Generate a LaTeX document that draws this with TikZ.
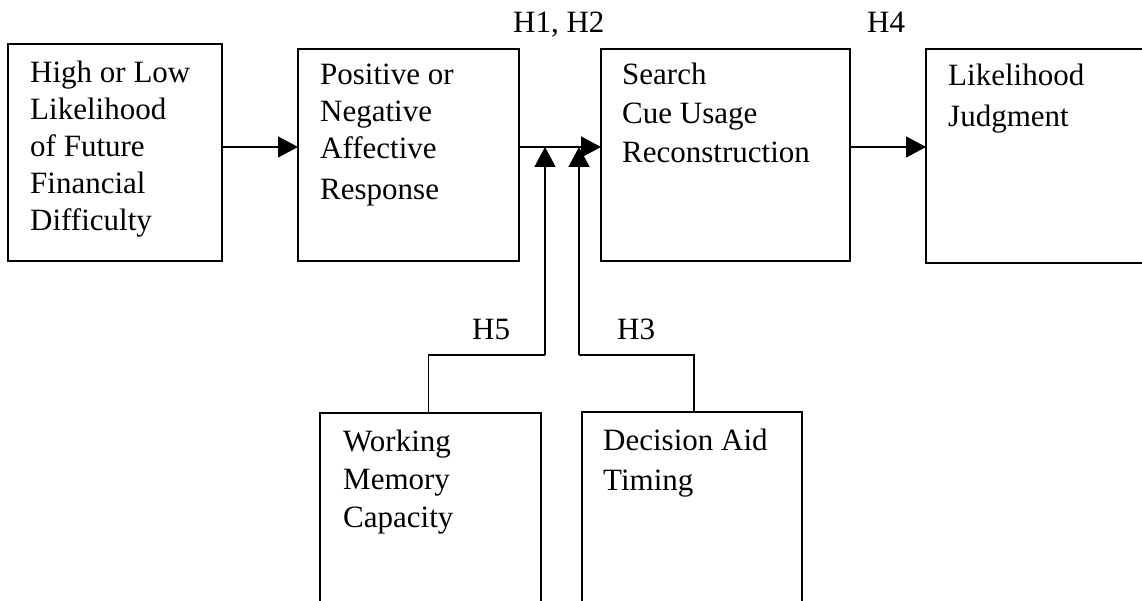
\documentclass[tikz,border=0pt]{standalone}
\usepackage{fontspec}
\setmainfont{Liberation Serif}
\usetikzlibrary{arrows.meta}

% left-aligned stack of lines; the baseline is that of the first line
\newcommand\textstack[2]{\vtop{\baselineskip=#1\relax\lineskip=0pt\lineskiplimit=-1000pt
  \halign{##\hfil\cr#2\crcr}}}

\tikzset{
  box/.style={draw, rectangle, line width=1.6bp, inner sep=0pt, outer sep=0pt, anchor=north west},
  txt/.style={inner sep=0pt, anchor=base west, font=\fontsize{31bp}{37bp}\selectfont},
  arr/.style={line width=1.6bp, -{Triangle[length=20bp,width=21bp]}},
  link/.style={line width=1.6bp}
}

\begin{document}
\begin{tikzpicture}[x=1bp,y=-1bp]
\useasboundingbox (0,0) rectangle (1142,601);
\clip (0,0) rectangle (1142,601);

% boxes
\node[box, minimum width=214bp, minimum height=217bp] (risk) at (8,44) {};
\node[box, minimum width=221bp, minimum height=212bp] (affect) at (298,49) {};
\node[box, minimum width=249bp, minimum height=212bp] (process) at (601,49) {};
\node[box, minimum width=260bp, minimum height=214bp] (judge) at (926,49) {};
\node[box, minimum width=221bp, minimum height=220bp] (memory) at (320,413) {};
\node[box, minimum width=220bp, minimum height=220bp] (timing) at (582,412) {};

% box texts
\node[txt] (risktext) at (30,83) {\textstack{36.8bp}{High or Low\cr Likelihood\cr of Future\cr Financial\cr Difficulty}};
\node[txt] (affecttext) at (320,85) {\textstack{36.6bp}{Positive or\cr Negative\cr Affective\cr\noalign{\vskip 5bp} Response}};
\node[txt] (processtext) at (622,85) {\textstack{39bp}{Search\cr Cue Usage\cr Reconstruction}};
\node[txt] (judgetext) at (948,86) {\textstack{41bp}{Likelihood\cr Judgment}};
\node[txt] (memorytext) at (343,451) {\textstack{38bp}{Working\cr Memory\cr Capacity}};
\node[txt] (timingtext) at (603,450) {\textstack{40bp}{Decision Aid\cr Timing}};

% hypothesis labels
\node[txt] (h12) at (513,33) {H1, H2};
\node[txt] (h4) at (867,33) {H4};
\node[txt] (h5) at (472,340) {H5};
\node[txt] (h3) at (617,340) {H3};

% main chain
\coordinate (row) at (0,147);
\draw[arr] (risk.east |- row) -- (affect.west |- row);
\draw[arr] (affect.east |- row) -- (process.west |- row);
\draw[arr] (process.east |- row) -- (judge.west |- row);

% moderators
\coordinate (k5) at (545,355);
\coordinate (k3) at (579,355);
\draw[link] ([xshift=-2bp]memory.north) |- (k5);
\draw[arr] (k5) -- (k5 |- row);
\draw[link] ([xshift=2bp]timing.north) |- (k3);
\draw[arr] (k3) -- (k3 |- row);
\end{tikzpicture}
\end{document}
